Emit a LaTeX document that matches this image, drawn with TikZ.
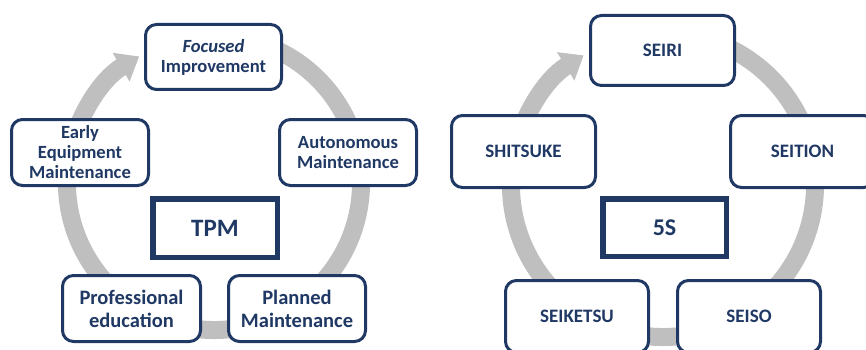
\documentclass[tikz,border=0pt]{standalone}
\usepackage{fontspec}
\setmainfont{Carlito}
\usetikzlibrary{arrows.meta}
\definecolor{navy}{HTML}{1F3864}
\definecolor{ringgray}{HTML}{BFBFBF}
\tikzset{
  ring/.style={draw=ringgray, line width=18pt,
    -{Triangle[width=32pt, length=21pt]}},
  stage/.style={draw=navy, line width=3pt, fill=white, rounded corners=11pt,
    inner sep=0pt, align=center, text=navy, font=\bfseries\fontsize{18.6}{20}\selectfont},
  stagebig/.style={stage, font=\bfseries\fontsize{20.5}{23}\selectfont},
  sstage/.style={stage, font=\bfseries\fontsize{19}{22}\selectfont},
  core/.style={draw=navy, line width=5.5pt, fill=white, inner sep=0pt,
    text=navy, font=\bfseries\fontsize{25}{28}\selectfont},
}
\begin{document}
\begin{tikzpicture}[x=1pt, y=-1pt]
\useasboundingbox (0,0) rectangle (866,350);

% ---- TPM cycle ----
\draw[ring] (214,183) ++(-80:147) arc[start angle=-80, end angle=239.4, radius=147];

\node[stage, minimum width=136pt, minimum height=65pt] (foc) at (213.5,57)
  {{\itshape Focused}\\Improvement};
\node[stage, minimum width=137pt, minimum height=66pt] (auto) at (348,152.5)
  {Autonomous\\Maintenance};
\node[stage, minimum width=137pt, minimum height=66pt] (early) at (80,152.5)
  {Early\\Equipment\\Maintenance};
\node[stagebig, minimum width=138pt, minimum height=66pt] (prof) at (131.5,308.5)
  {Professional\\education};
\node[stagebig, minimum width=137pt, minimum height=66pt] (plan) at (297,308.5)
  {Planned\\Maintenance};
\node[core, minimum width=124.5pt, minimum height=58.5pt] (tpm) at (215,228) {TPM};

% ---- 5S cycle ----
\draw[ring] (663,185) ++(-80:152) arc[start angle=-80, end angle=238.5, radius=152];

\node[sstage, minimum width=144pt, minimum height=70pt] (seiri) at (662.5,50.5) {SEIRI};
\node[sstage, minimum width=144pt, minimum height=72pt] (seition) at (802.5,151.5) {SEITION};
\node[sstage, minimum width=144pt, minimum height=72pt] (shitsuke) at (523.5,151.5) {SHITSUKE};
\node[sstage, minimum width=143pt, minimum height=72pt, text depth=0pt] (seiketsu) at (577,316.5) {SEIKETSU};
\node[sstage, minimum width=143pt, minimum height=72pt] (seiso) at (749,316.5) {SEISO};
\node[core, minimum width=123.5pt, minimum height=57.5pt, font=\bfseries\fontsize{24}{28}\selectfont] (fives) at (664.5,227.5) {5S};
\end{tikzpicture}
\end{document}
